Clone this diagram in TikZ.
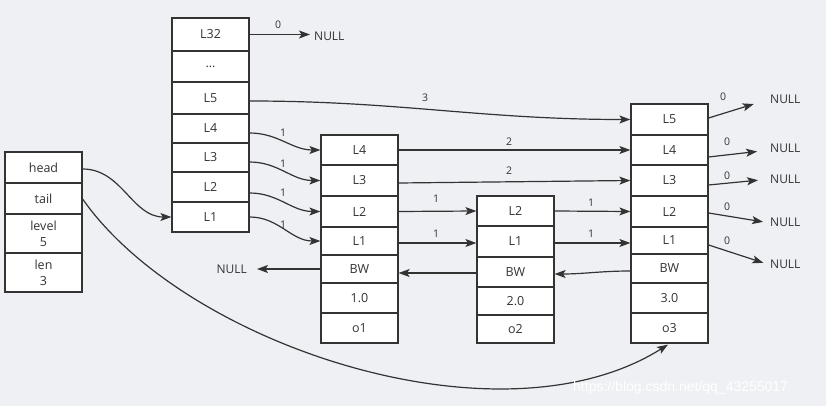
\documentclass[tikz,border=0pt]{standalone}
\usepackage{fontspec}
\setmainfont{Open Sans}
\newfontfamily\wmfont{Liberation Sans}
\usetikzlibrary{arrows.meta,calc}
\definecolor{bg}{RGB}{238,240,244}
\definecolor{ink}{RGB}{51,51,51}
\begin{document}
\begin{tikzpicture}[x=1pt,y=-1pt,
  cell/.style={draw=ink, fill=white, line width=1.2pt, minimum width=77pt, inner sep=0pt,
    font=\fontsize{12.5}{16}\selectfont, text=ink, align=center},
  conn/.style={draw=ink, line width=1.2pt, -{Stealth[length=11pt,width=8pt,inset=2.5pt]}},
  lbl/.style={font=\fontsize{10.5}{12}\selectfont, text=ink, inner sep=0pt},
  nulltext/.style={font=\fontsize{12}{14}\selectfont, text=ink, inner sep=0pt, anchor=west}]
\fill[bg] (0,0) rectangle (826,406);
\useasboundingbox (0,0) rectangle (826,406);

% header box
\node[cell,minimum height=31pt] (head) at (43.5,167.5) {head};
\node[cell,minimum height=31pt] (tail) at (43.5,198.5) {tail};
\node[cell,minimum height=39pt] (level) at (43.5,233.5) {level\\5};
\node[cell,minimum height=39pt] (len) at (43.5,272.5) {len\\3};

% head column
\node[cell,minimum height=33pt] (c0L32) at (210.5,34.5) {L32};
\node[cell,minimum height=31pt] (c0dots) at (210.5,66.5) {...};
\node[cell,minimum height=32pt] (c0L5) at (210.5,98) {L5};
\node[cell,minimum height=29pt] (c0L4) at (210.5,128.5) {L4};
\node[cell,minimum height=29pt] (c0L3) at (210.5,157.5) {L3};
\node[cell,minimum height=30pt] (c0L2) at (210.5,187) {L2};
\node[cell,minimum height=30pt] (c0L1) at (210.5,217) {L1};

% node 1
\node[cell,minimum height=30pt] (n1L4) at (359.5,150) {L4};
\node[cell,minimum height=31pt] (n1L3) at (359.5,180.5) {L3};
\node[cell,minimum height=31pt] (n1L2) at (359.5,211.5) {L2};
\node[cell,minimum height=28pt] (n1L1) at (359.5,241) {L1};
\node[cell,minimum height=28pt] (n1BW) at (359.5,269) {BW};
\node[cell,minimum height=30pt] (n1s) at (359.5,298) {1.0};
\node[cell,minimum height=30pt] (n1o) at (359.5,328) {o1};

% node 2
\node[cell,minimum height=30pt] (n2L2) at (515.5,211) {L2};
\node[cell,minimum height=31pt] (n2L1) at (515.5,241.5) {L1};
\node[cell,minimum height=30pt] (n2BW) at (515.5,272) {BW};
\node[cell,minimum height=28pt] (n2s) at (515.5,301) {2.0};
\node[cell,minimum height=28pt] (n2o) at (515.5,329) {o2};

% node 3
\node[cell,minimum height=31pt] (n3L5) at (669.5,119.5) {L5};
\node[cell,minimum height=30pt] (n3L4) at (669.5,150) {L4};
\node[cell,minimum height=31pt] (n3L3) at (669.5,180.5) {L3};
\node[cell,minimum height=31pt] (n3L2) at (669.5,211.5) {L2};
\node[cell,minimum height=27pt] (n3L1) at (669.5,240.5) {L1};
\node[cell,minimum height=29pt] (n3BW) at (669.5,268.5) {BW};
\node[cell,minimum height=30pt] (n3s) at (669.5,298) {3.0};
\node[cell,minimum height=30pt] (n3o) at (669.5,328) {o3};

% NULL texts
\node[nulltext] (nullTop) at (314,36) {NULL};
\node[nulltext,anchor=east] (nullLeft) at (247,269) {NULL};
\node[nulltext] (nullR1) at (770,99) {NULL};
\node[nulltext] (nullR2) at (770,148) {NULL};
\node[nulltext] (nullR3) at (770,179) {NULL};
\node[nulltext] (nullR4) at (770,222) {NULL};
\node[nulltext] (nullR5) at (770,264) {NULL};

% connectors
\draw[conn,shorten >=4pt] (c0L32.east) -- (c0L32.east -| nullTop.west);
\node[lbl] (lt) at (278,25) {0};

\draw[conn] ($(c0L5.east)+(0,3)$) to[out=0,in=180] (n3L5.west);
\node[lbl] (l5) at (425,98) {3};

\draw[conn] ($(c0L4.east)+(0,4.5)$) to[out=0,in=180] (n1L4.west);
\node[lbl] (la4) at (283,133) {1};
\draw[conn] ($(c0L3.east)+(0,4.5)$) to[out=0,in=180] (n1L3.west);
\node[lbl] (la3) at (283,164) {1};
\draw[conn] ($(c0L2.east)+(0,6)$) to[out=0,in=180] (n1L2.west);
\node[lbl] (la2) at (283,193) {1};
\draw[conn] (c0L1.east) to[out=0,in=180] (n1L1.west);
\node[lbl] (la1) at (283,225) {1};

\draw[conn] ($(head.east)+(0,1.5)$) to[out=0,in=180] (c0L1.west);
\draw[conn] ($(tail.east)+(0,0.5)$) .. controls (185,345) and (500,450) .. ($(n3o.south)+(-1.5,1)$);

\draw[conn] (n1L4.east) -- (n3L4.west);
\node[lbl] (lb4) at (509,142) {2};
\draw[conn] ($(n1L3.east)+(0,2.5)$) -- (n3L3.west);
\node[lbl] (lb3) at (509,171) {2};
\draw[conn] (n1L2.east) -- (n2L2.west);
\node[lbl] (lb2) at (436,199) {1};
\draw[conn] ($(n1L1.east)+(0,2)$) -- ($(n2L1.west)+(0,1.5)$);
\node[lbl] (lb1) at (436,234) {1};

\draw[conn] (n2L2.east) -- (n3L2.west);
\node[lbl] (lc2) at (591,203) {1};
\draw[conn] ($(n2L1.east)+(0,1.5)$) to[out=0,in=180] ($(n3L1.west)+(0,2.5)$);
\node[lbl] (lc1) at (591,234) {1};

\draw[conn] ($(n3BW.west)+(0,2.5)$) to[out=180,in=0] ($(n2BW.east)+(0,2)$);
\draw[conn] ($(n2BW.west)+(0,1)$) -- ($(n1BW.east)+(0,4)$);
\draw[conn,shorten >=10pt] (n1BW.west) -- (n1BW.west -| nullLeft.east);

\draw[conn,shorten >=17pt] ($(n3L5.east)+(0,-1.5)$) -- (nullR1.west);
\node[lbl] (ld5) at (723,97) {0};
\draw[conn,shorten >=13pt] ($(n3L4.east)+(0,7)$) -- ($(nullR2.west)+(0,2)$);
\node[lbl] (ld4) at (727,142) {0};
\draw[conn,shorten >=12pt] ($(n3L3.east)+(0,4.5)$) -- (nullR3.west);
\node[lbl] (ld3) at (727,176) {0};
\draw[conn,shorten >=7pt] ($(n3L2.east)+(0,1.5)$) -- ($(nullR4.west)+(0,1)$);
\node[lbl] (ld2) at (727,207) {0};
\draw[conn,shorten >=7pt] ($(n3L1.east)+(0,4.5)$) -- ($(nullR5.west)+(0,1)$);
\node[lbl] (ld1) at (727,241) {0};

% watermark
\node[anchor=west, text=white, inner sep=0pt, font=\wmfont\fontsize{14}{16}\selectfont] (wm) at (573,388) {https://blog.csdn.net/qq\_43255017};
\end{tikzpicture}
\end{document}
